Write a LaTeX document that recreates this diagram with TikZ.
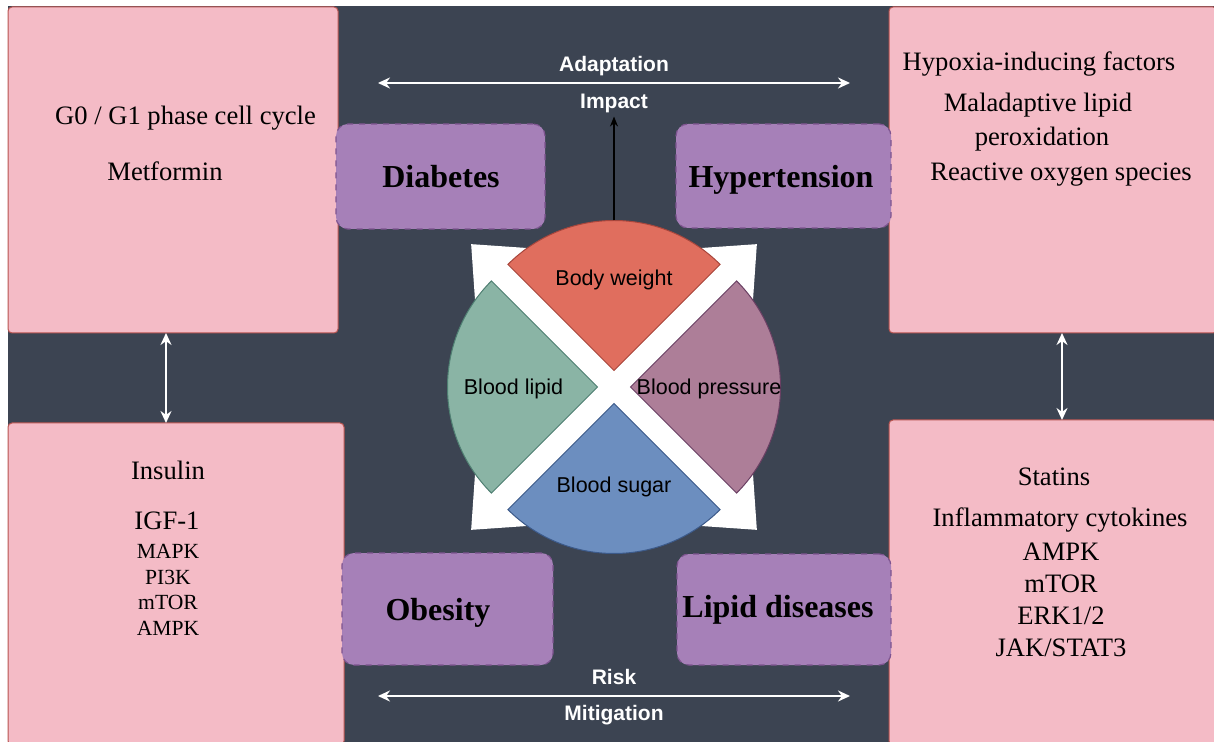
\documentclass[tikz,border=0pt]{standalone}
\usepackage{fontspec}
\setmainfont{Liberation Serif}
\setsansfont{Liberation Sans}
\usetikzlibrary{arrows.meta}
\definecolor{bgdark}{HTML}{3C4452}
\definecolor{pinkfill}{HTML}{F4BBC6}
\definecolor{pinkline}{HTML}{B85450}
\definecolor{purplefill}{HTML}{A680B8}
\definecolor{purpleline}{HTML}{7E5490}
\definecolor{bwfill}{HTML}{E06E5E}
\definecolor{bwline}{HTML}{A8463C}
\definecolor{blfill}{HTML}{8AB4A5}
\definecolor{blline}{HTML}{4F7F72}
\definecolor{bpfill}{HTML}{AD7E98}
\definecolor{bpline}{HTML}{6A3F63}
\definecolor{bsfill}{HTML}{6C8EBF}
\definecolor{bsline}{HTML}{3C5A8A}
\begin{document}
\begin{tikzpicture}[x=0.5pt,y=-0.5pt,
  every node/.style={inner sep=0pt, outer sep=0pt},
  pinkbox/.style={draw=pinkline, fill=pinkfill, line width=0.5pt, rounded corners=2pt},
  diseasebox/.style={draw=purpleline, fill=purplefill, line width=0.6pt, dashed, rounded corners=6pt},
  serifbig/.style={font=\fontsize{13.3}{16}\selectfont, text height=8.8pt, text depth=0pt},
  serifsmall/.style={font=\fontsize{10.8}{13}\selectfont, text height=7.2pt, text depth=0pt},
  disease/.style={font=\fontsize{16}{19}\selectfont\bfseries, text height=10.6pt, text depth=0pt},
  sectorlabel/.style={font=\sffamily\fontsize{10.75}{13}\selectfont, text height=7.7pt, text depth=0pt},
  whitelabel/.style={font=\sffamily\bfseries\fontsize{10.5}{13}\selectfont, text=white, text height=7.5pt, text depth=0pt},
  whitearrow/.style={draw=white, line width=1.2pt, {Stealth[length=6pt,width=5.5pt]}-{Stealth[length=6pt,width=5.5pt]}},
  bigx/.style={draw=white, line width=12pt, {Triangle[width=35pt,length=21pt]}-{Triangle[width=35pt,length=21pt]}}
]
\useasboundingbox (0,0) rectangle (1214,742);
\fill[bgdark] (8,6) rectangle (1214,742);

% pink boxes
\node[pinkbox, minimum width=165pt, minimum height=163pt] (tl) at (173,170) {};
\node[pinkbox, minimum width=164pt, minimum height=163pt] (tr) at (1053,170) {};
\node[pinkbox, minimum width=168pt, minimum height=161pt] (bl) at (176,584) {};
\node[pinkbox, minimum width=164pt, minimum height=162.5pt] (br) at (1053,582.5) {};

% disease boxes
\node[diseasebox, minimum width=104.5pt, minimum height=52.5pt] (diab) at (440.5,176.5) {};
\node[diseasebox, minimum width=107.5pt, minimum height=52pt] (hyp) at (783.5,176) {};
\node[diseasebox, minimum width=105.5pt, minimum height=56pt] (obes) at (447.5,609) {};
\node[diseasebox, minimum width=107pt, minimum height=55.5pt] (lip) at (784,609.5) {};
\node[disease] (diabt) at (441,177) {Diabetes};
\node[disease] (hypt) at (781,177) {Hypertension};
\node[disease] (obest) at (438,610) {Obesity};
\node[disease] (lipt) at (778,607) {Lipid diseases};

% texts in pink boxes
\node[serifbig] (g0) at (185.5,116) {G0 / G1 phase cell cycle};
\node[serifbig] (met) at (165,172) {Metformin};
\node[serifbig] (hif) at (1039,62) {Hypoxia-inducing factors};
\node[serifbig] (mal) at (1038,103) {Maladaptive lipid};
\node[serifbig] (per) at (1042,137) {peroxidation};
\node[serifbig] (ros) at (1061,172) {Reactive oxygen species};
\node[serifbig] (ins) at (168,471) {Insulin};
\node[serifbig] (igf) at (167,521) {IGF-1};
\node[serifsmall] (mapk) at (168,551) {MAPK};
\node[serifsmall] (pi3k) at (168,577) {PI3K};
\node[serifsmall] (mtorl) at (168,602) {mTOR};
\node[serifsmall] (ampkl) at (168,628) {AMPK};
\node[serifbig] (stat) at (1054,477) {Statins};
\node[serifbig] (infl) at (1060,518) {Inflammatory cytokines};
\node[serifbig] (ampkr) at (1061,552) {AMPK};
\node[serifbig] (mtorr) at (1061,584) {mTOR};
\node[serifbig] (erk) at (1061,616) {ERK1/2};
\node[serifbig] (jak) at (1061,648) {JAK/STAT3};

% big white X
\coordinate (ctr) at (614,387);
\coordinate (xtl) at (471,244);
\coordinate (xtr) at (757,244);
\coordinate (xbl) at (471,530);
\coordinate (xbr) at (757,530);
\draw[bigx] (xtl) -- (xbr);
\draw[bigx] (xtr) -- (xbl);

% sectors
\filldraw[fill=bwfill, draw=bwline, line width=0.5pt] (614,370.5) -- ++(225:150) arc[start angle=225, end angle=315, radius=150] -- cycle;
\filldraw[fill=bpfill, draw=bpline, line width=0.5pt] (630.5,387) -- ++(-45:150) arc[start angle=-45, end angle=45, radius=150] -- cycle;
\filldraw[fill=bsfill, draw=bsline, line width=0.5pt] (614,403.5) -- ++(45:150) arc[start angle=45, end angle=135, radius=150] -- cycle;
\filldraw[fill=blfill, draw=blline, line width=0.5pt] (597.5,387) -- ++(135:150) arc[start angle=135, end angle=225, radius=150] -- cycle;
\node[sectorlabel] (bw) at (614,278) {Body weight};
\node[sectorlabel] (blp) at (513.5,387) {Blood lipid};
\node[sectorlabel] (bpr) at (709,387) {Blood pressure};
\node[sectorlabel] (bsg) at (614,485) {Blood sugar};

% top / bottom arrows
\coordinate (adl) at (378,83);
\coordinate (adr) at (850,83);
\coordinate (mil) at (378,696);
\coordinate (mir) at (850,696);
\draw[whitearrow] (adl) -- (adr);
\draw[whitearrow] (mil) -- (mir);
\node[whitelabel] (adapt) at (614,64) {Adaptation};
\node[whitelabel] (impact) at (614,101) {Impact};
\node[whitelabel] (risk) at (614,677) {Risk};
\node[whitelabel] (mitig) at (614,713) {Mitigation};

\coordinate (bwtop) at (614,220.5);
\draw[black, line width=0.8pt, -{Stealth[length=5pt,width=4pt]}, shorten >=4pt] (bwtop) -- (impact.south);

% vertical arrows
\coordinate (lx) at (166,0);
\coordinate (rx) at (1062,0);
\draw[whitearrow] (tl.south -| lx) -- (bl.north -| lx);
\draw[whitearrow] (tr.south -| rx) -- (br.north -| rx);
\end{tikzpicture}
\end{document}
